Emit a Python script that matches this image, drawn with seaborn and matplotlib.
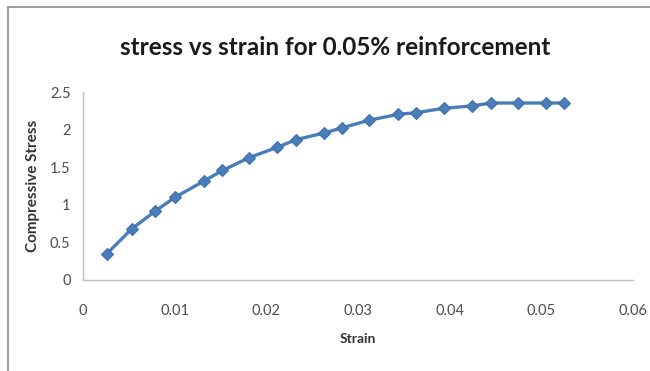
import matplotlib
matplotlib.use("Agg")
import matplotlib.pyplot as plt
import matplotlib.lines as mlines
import seaborn as sns
import pandas as pd

strain = [0.0026, 0.0053, 0.0079, 0.0100, 0.0132, 0.0152, 0.0181, 0.0212, 0.0232,
          0.0263, 0.0283, 0.0312, 0.0344, 0.0363, 0.0394, 0.0424, 0.0445, 0.0475,
          0.0505, 0.0525]
stress = [0.35, 0.68, 0.92, 1.10, 1.32, 1.46, 1.63, 1.77, 1.87,
          1.96, 2.03, 2.13, 2.21, 2.23, 2.29, 2.32, 2.36, 2.36,
          2.36, 2.36]
x_ticks = [0, 0.01, 0.02, 0.03, 0.04, 0.05, 0.06]
x_tick_labels = ["0", "0.01", "0.02", "0.03", "0.04", "0.05", "0.06"]
y_ticks = [0, 0.5, 1, 1.5, 2, 2.5]
y_tick_labels = ["0", "0.5", "1", "1.5", "2", "2.5"]

df = pd.DataFrame({"Strain": strain, "Compressive Stress": stress})

sns.set_style("white")
plt.rcParams["font.family"] = ["Lato", "DejaVu Sans"]

fig = plt.figure(figsize=(6.5, 3.71), dpi=100)
ax = fig.add_axes([0.1277, 0.2453, 0.974 - 0.1277, 0.7507 - 0.2453])

sns.lineplot(data=df, x="Strain", y="Compressive Stress", ax=ax,
             color="#4A7EBB", linewidth=2.4, marker="D", markersize=6.5,
             markeredgecolor="#3F6FA8", markeredgewidth=0.8)

ax.set_xlim(0, 0.06)
ax.set_ylim(0, 2.5)
ax.set_xticks(x_ticks)
ax.set_xticklabels(x_tick_labels)
ax.set_yticks(y_ticks)
ax.set_yticklabels(y_tick_labels)
ax.tick_params(axis="both", length=0, labelsize=10.5, colors="#4D4D4D")
ax.tick_params(axis="x", pad=17)
ax.tick_params(axis="y", pad=9)

for side in ["top", "right"]:
    ax.spines[side].set_visible(False)
for side in ["left", "bottom"]:
    ax.spines[side].set_color("#BFBFBF")
    ax.spines[side].set_linewidth(1.0)

ax.set_xlabel("Strain", fontsize=10, fontweight="bold", color="#333333", labelpad=11)
ax.set_ylabel("Compressive Stress", fontsize=11, fontweight="bold", color="#333333", labelpad=7)

fig.text(0.516, 0.873, "stress vs strain for 0.05% reinforcement",
         ha="center", va="center", fontsize=17.5, fontweight="bold", color="#1A1A1A")

# chart frame edges
fig.add_artist(mlines.Line2D([8 / 650, 1], [1 - 7 / 371, 1 - 7 / 371],
                             transform=fig.transFigure, color="#8C8C8C", linewidth=1.2))
fig.add_artist(mlines.Line2D([8 / 650, 8 / 650], [0, 1 - 7 / 371],
                             transform=fig.transFigure, color="#8C8C8C", linewidth=1.2))

fig.savefig("out.png", dpi=100)
